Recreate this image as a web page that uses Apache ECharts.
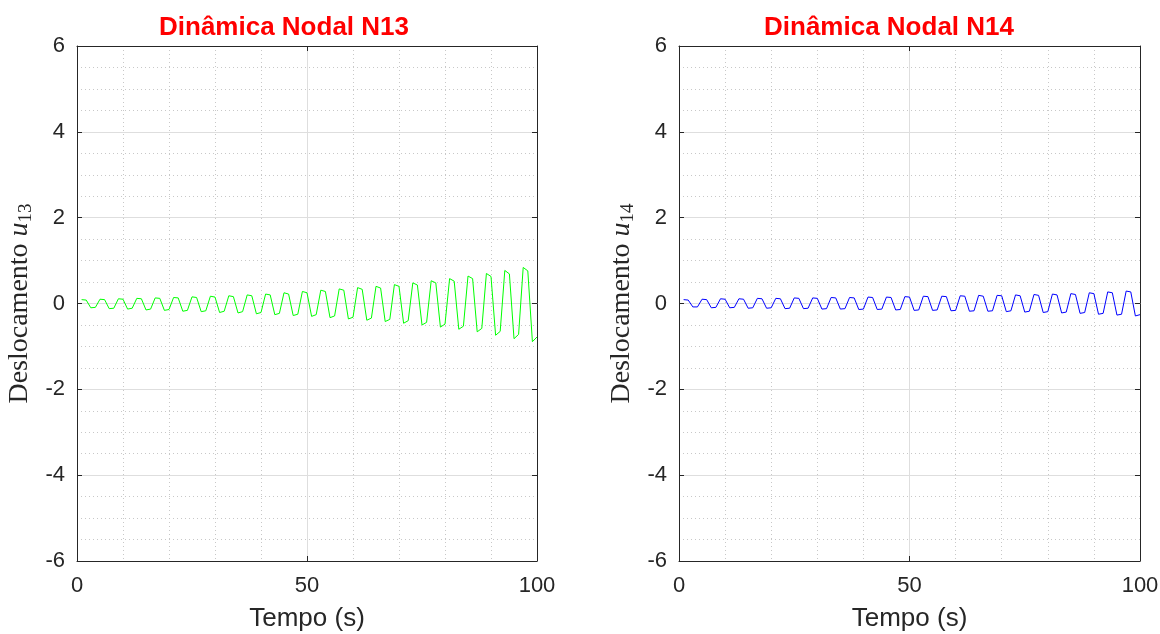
<!DOCTYPE html>
<html><head><meta charset="utf-8">
<script src="https://cdn.jsdelivr.net/npm/echarts@6/dist/echarts.min.js"></script>
<style>html,body{margin:0;padding:0;background:#fff}#c{width:1160px;height:634px}</style>
</head><body><div id="c"></div>
<script>
const time = [1,2,3,4,5,6,7,8,9,10,11,12,13,14,15,16,17,18,19,20,21,22,23,24,25,26,27,28,29,30,31,32,33,34,35,36,37,38,39,40,41,42,43,44,45,46,47,48,49,50,51,52,53,54,55,56,57,58,59,60,61,62,63,64,65,66,67,68,69,70,71,72,73,74,75,76,77,78,79,80,81,82,83,84,85,86,87,88,89,90,91,92,93,94,95,96,97,98,99,100];
const u13 = [0.09,0.08,-0.10,-0.09, 0.10,0.09,-0.12,-0.11, 0.11,0.10,-0.13,-0.11, 0.12,0.11,-0.15,-0.13, 0.13,0.12,-0.16,-0.14,
  0.14,0.13,-0.18,-0.16, 0.155,0.14,-0.19,-0.17, 0.17,0.15,-0.21,-0.18, 0.18,0.16,-0.22,-0.19, 0.20,0.18,-0.24,-0.21,
  0.22,0.20,-0.26,-0.23, 0.25,0.22,-0.28,-0.25, 0.28,0.25,-0.30,-0.26, 0.31,0.28,-0.33,-0.29, 0.34,0.31,-0.36,-0.32,
  0.37,0.33,-0.39,-0.34, 0.40,0.36,-0.42,-0.37, 0.44,0.40,-0.46,-0.40, 0.48,0.43,-0.50,-0.44, 0.53,0.48,-0.55,-0.48,
  0.58,0.52,-0.60,-0.53, 0.64,0.58,-0.66,-0.58, 0.70,0.63,-0.74,-0.65, 0.77,0.69,-0.82,-0.72, 0.84,0.76,-0.89,-0.78];
const u14 = [0.09,0.08,-0.08,-0.08, 0.10,0.09,-0.10,-0.09, 0.11,0.10,-0.10,-0.09, 0.11,0.10,-0.11,-0.10, 0.12,0.11,-0.11,-0.10,
  0.12,0.11,-0.12,-0.11, 0.13,0.12,-0.12,-0.11, 0.13,0.12,-0.13,-0.12, 0.14,0.13,-0.13,-0.12, 0.14,0.13,-0.14,-0.13,
  0.15,0.14,-0.14,-0.13, 0.15,0.14,-0.15,-0.14, 0.16,0.15,-0.16,-0.15, 0.17,0.16,-0.16,-0.15, 0.17,0.16,-0.17,-0.16,
  0.18,0.17,-0.18,-0.17, 0.19,0.17,-0.18,-0.17, 0.19,0.18,-0.19,-0.17, 0.20,0.18,-0.20,-0.18, 0.21,0.19,-0.21,-0.19,
  0.22,0.20,-0.22,-0.20, 0.23,0.21,-0.23,-0.21, 0.25,0.23,-0.25,-0.23, 0.27,0.25,-0.27,-0.25, 0.29,0.27,-0.29,-0.26];
const titles = ['Dinâmica Nodal N13', 'Dinâmica Nodal N14'];
const yNames = ['13', '14'];
const xName = 'Tempo (s)';

const axisColor = '#262626';
const grids = [
  {left: 77, right: 623, top: 46, bottom: 73, outerBoundsMode: 'none', containLabel: false},
  {left: 679, right: 20, top: 46, bottom: 73, outerBoundsMode: 'none', containLabel: false}
];
function xAx(i, pos) {
  const main = pos === 'bottom';
  return {
    type: 'value', gridIndex: i, position: pos, min: 0, max: 100, interval: 50,
    name: main ? xName : '', nameLocation: 'middle', nameGap: 45,
    nameTextStyle: {fontFamily: 'Liberation Sans', fontSize: 26, color: axisColor},
    axisLine: {show: true, onZero: false, lineStyle: {color: axisColor, width: 1}},
    axisTick: {show: true, inside: true, length: 5, lineStyle: {color: axisColor}},
    axisLabel: {show: main, fontFamily: 'Liberation Sans', fontSize: 22, color: axisColor, margin: 14},
    splitLine: {show: main, lineStyle: {color: '#dedede', width: 1}},
    minorTick: {show: false, splitNumber: 5},
    minorSplitLine: {show: main, lineStyle: {color: '#c8c8c8', type: [1, 3], width: 1}}
  };
}
function yAx(i, pos) {
  const main = pos === 'left';
  return {
    type: 'value', gridIndex: i, position: pos, min: -6, max: 6, interval: 2,
    name: main ? '{a|Deslocamento }{b|u}{c|' + yNames[i] + '}' : '',
    nameLocation: 'middle', nameRotate: 90, nameGap: 42,
    nameTextStyle: {
      rich: {
        a: {fontFamily: 'Liberation Serif', fontSize: 28, color: axisColor, lineHeight: 30},
        b: {fontFamily: 'Liberation Serif', fontStyle: 'italic', fontSize: 28, color: axisColor, lineHeight: 30},
        c: {fontFamily: 'Liberation Serif', fontSize: 19, color: axisColor, lineHeight: 30, padding: [12, 0, 0, 0]}
      }
    },
    axisLine: {show: true, onZero: false, lineStyle: {color: axisColor, width: 1}},
    axisTick: {show: true, inside: true, length: 5, lineStyle: {color: axisColor}},
    axisLabel: {show: main, fontFamily: 'Liberation Sans', fontSize: 22, color: axisColor, margin: 12},
    splitLine: {show: main, lineStyle: {color: '#dedede', width: 1}},
    minorTick: {show: false, splitNumber: 4},
    minorSplitLine: {show: main, lineStyle: {color: '#c8c8c8', type: [1, 3], width: 1}}
  };
}
const chart = echarts.init(document.getElementById('c'), null, {renderer: 'canvas'});
chart.setOption({
  animation: false,
  backgroundColor: '#ffffff',
  title: [
    {text: titles[0], left: 279, top: 10, textAlign: 'center', textStyle: {fontFamily: 'Liberation Sans', fontWeight: 'bold', fontSize: 26, color: '#ff0000'}},
    {text: titles[1], left: 884, top: 10, textAlign: 'center', textStyle: {fontFamily: 'Liberation Sans', fontWeight: 'bold', fontSize: 26, color: '#ff0000'}}
  ],
  grid: grids,
  xAxis: [xAx(0, 'bottom'), xAx(0, 'top'), xAx(1, 'bottom'), xAx(1, 'top')],
  yAxis: [yAx(0, 'left'), yAx(0, 'right'), yAx(1, 'left'), yAx(1, 'right')],
  series: [
    {type: 'line', xAxisIndex: 0, yAxisIndex: 0, showSymbol: false, data: time.map((t, k) => [t, u13[k]]), lineStyle: {color: '#00ff00', width: 1}, itemStyle: {color: '#00ff00'}},
    {type: 'line', xAxisIndex: 2, yAxisIndex: 2, showSymbol: false, data: time.map((t, k) => [t, u14[k]]), lineStyle: {color: '#0000ff', width: 1}, itemStyle: {color: '#0000ff'}}
  ]
});
</script></body></html>
